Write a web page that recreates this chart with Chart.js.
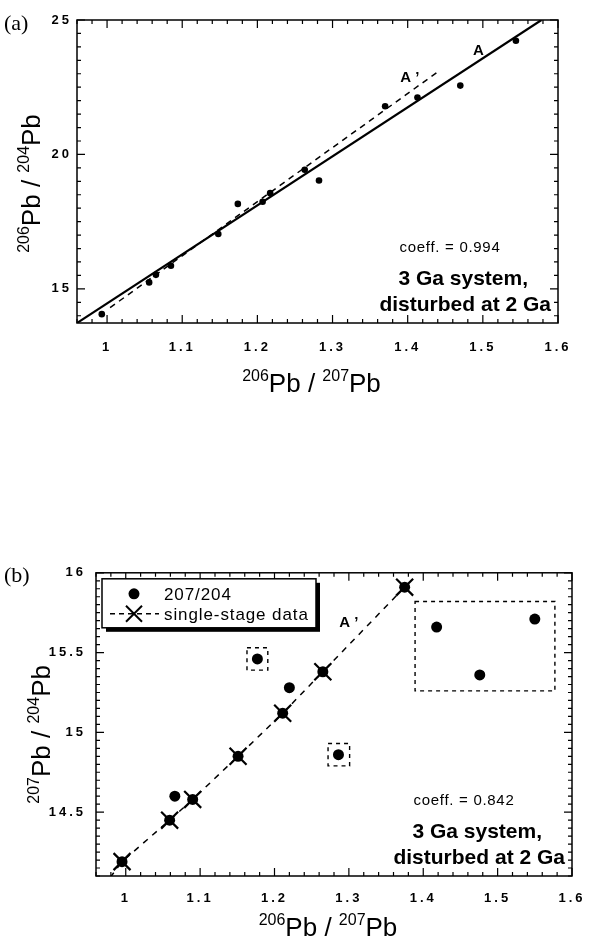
<!DOCTYPE html>
<html>
<head>
<meta charset="utf-8">
<script src="https://cdn.jsdelivr.net/npm/chart.js@4.4.0/dist/chart.umd.min.js"></script>
<style>
  body { margin: 0; background: #fff; width: 598px; height: 945px; position: relative; overflow: hidden; }
  canvas { position: absolute; left: 0; }
  #chartA { top: 0; }
  #chartB { top: 555px; }
</style>
</head>
<body>
<canvas id="chartA" width="598" height="400"></canvas>
<canvas id="chartB" width="598" height="390"></canvas>
<script>
// --- axis ticks ---
var xTickLabels = [1, 1.1, 1.2, 1.3, 1.4, 1.5, 1.6];
var yTicksA = [15, 20, 25];
var yTicksB = [14.5, 15, 15.5, 16];

// --- panel (a): 206Pb/207Pb vs 206Pb/204Pb ---
var ratio206_207_a = [0.993, 1.056, 1.065, 1.085, 1.148, 1.174, 1.207, 1.217, 1.263, 1.282, 1.370, 1.413, 1.470, 1.544];
var ratio206_204   = [14.06, 15.24, 15.52, 15.86, 17.04, 18.16, 18.24, 18.56, 19.43, 19.03, 21.79, 22.12, 22.56, 24.23];
// line A (solid) and line A' (dashed), end points
var lineA_x  = [0.96, 1.578];
var lineA_y  = [13.73, 25];
var lineA1_x = [1.004, 1.442];
var lineA1_y = [14.30, 23.11];
var labelA  = [1.494, 23.86];
var labelA1 = [1.403, 22.85];

// --- panel (b): 206Pb/207Pb vs 207Pb/204Pb ---
var ratio206_207_b = [0.995, 1.059, 1.066, 1.090, 1.151, 1.177, 1.211, 1.220, 1.265, 1.286, 1.375, 1.418, 1.476, 1.550];
var ratio207_204   = [14.19, 14.45, 14.60, 14.58, 14.85, 15.46, 15.12, 15.28, 15.38, 14.86, 15.91, 15.66, 15.36, 15.71];
var singleStageIdx = [0, 1, 3, 4, 6, 8, 10];
var singleLineStart = [0.979, 14.09];
var labelB1 = [1.300, 15.685];
// dashed boxes: [xmin, xmax, ymin, ymax]
var boxesB = [
  [1.163, 1.191, 15.39, 15.53],
  [1.272, 1.301, 14.79, 14.93],
  [1.389, 1.577, 15.26, 15.82]
];

var TICK_FONT = { family: 'Liberation Sans, Arial, sans-serif', size: 13, weight: 'bold' };

function pts(xs, ys) {
  return xs.map(function (x, i) { return { x: x, y: ys[i] }; });
}

function axis(min, max, ticks, pad, size, isX) {
  return {
    type: 'linear', min: min, max: max,
    grid: { display: false, drawTicks: false }, border: { display: false },
    ticks: { color: '#000', font: TICK_FONT, padding: pad, autoSkip: false, maxRotation: 0,
             callback: function (v) { return String(v); } },
    afterBuildTicks: function (s) { s.ticks = ticks.map(function (v) { return { value: v }; }); },
    afterFit: function (s) { if (isX) s.height = size; else s.width = size; }
  };
}

// superscript text like 206Pb / 207Pb
function drawIso(ctx, parts, x, y, rotate) {
  var MAIN = '26px Liberation Sans, Arial, sans-serif';
  var SUP = '16px Liberation Sans, Arial, sans-serif';
  ctx.save();
  ctx.translate(x, y);
  if (rotate) ctx.rotate(-Math.PI / 2);
  ctx.fillStyle = '#000';
  ctx.textAlign = 'left';
  ctx.textBaseline = 'alphabetic';
  var w = 0;
  parts.forEach(function (p) { ctx.font = p[1] ? SUP : MAIN; w += ctx.measureText(p[0]).width; });
  var cx = -w / 2;
  parts.forEach(function (p) {
    ctx.font = p[1] ? SUP : MAIN;
    ctx.fillText(p[0], cx, p[1] ? -11 : 0);
    cx += ctx.measureText(p[0]).width;
  });
  ctx.restore();
}

function steps(start, end, step) {
  var n = Math.round((end - start) / step), out = [];
  for (var i = 0; i <= n; i++) out.push(+(start + i * step).toFixed(4));
  return out;
}

function isMajor(v, every) {
  var q = v / every;
  return Math.abs(q - Math.round(q)) < 1e-6;
}

// box around chart area with inward ticks on all sides
function framePlugin(xMinor, xEvery, yMinor, yEvery) {
  return {
    id: 'frame',
    afterDatasetsDraw: function (chart) {
      var ctx = chart.ctx, a = chart.chartArea, sx = chart.scales.x, sy = chart.scales.y;
      ctx.save();
      ctx.strokeStyle = '#000';
      ctx.lineWidth = 1.5;
      ctx.strokeRect(a.left, a.top, a.right - a.left, a.bottom - a.top);
      ctx.lineWidth = 1.2;
      ctx.beginPath();
      xMinor.forEach(function (v) {
        var p = sx.getPixelForValue(v), l = isMajor(v, xEvery) ? 8 : 4;
        if (p < a.left - 0.5 || p > a.right + 0.5) return;
        ctx.moveTo(p, a.bottom); ctx.lineTo(p, a.bottom - l);
        ctx.moveTo(p, a.top); ctx.lineTo(p, a.top + l);
      });
      yMinor.forEach(function (v) {
        var p = sy.getPixelForValue(v), l = isMajor(v, yEvery) ? 8 : 4;
        if (p < a.top - 0.5 || p > a.bottom + 0.5) return;
        ctx.moveTo(a.left, p); ctx.lineTo(a.left + l, p);
        ctx.moveTo(a.right, p); ctx.lineTo(a.right - l, p);
      });
      ctx.stroke();
      ctx.restore();
    }
  };
}

// spaced-out tick digits like the original typesetting
var spacing = {
  id: 'spacing',
  beforeDraw: function (chart) { chart.ctx.letterSpacing = '3px'; },
  beforeDatasetsDraw: function (chart) { chart.ctx.letterSpacing = '0px'; }
};

function notes(chart, coeff, panel, panelY, xTitleY, letters) {
  var ctx = chart.ctx, a = chart.chartArea, sx = chart.scales.x, sy = chart.scales.y;
  ctx.save();
  ctx.fillStyle = '#000';
  ctx.font = '22px Liberation Serif, Times New Roman, serif';
  ctx.textAlign = 'left';
  ctx.textBaseline = 'alphabetic';
  ctx.fillText(panel, 4, panelY);

  ctx.font = '15px Liberation Sans, Arial, sans-serif';
  ctx.textAlign = 'center';
  ctx.letterSpacing = '0.7px';
  ctx.fillText('coeff. = ' + coeff, a.right - 108, a.bottom - 71);
  ctx.letterSpacing = '0px';
  ctx.font = 'bold 21px Liberation Sans, Arial, sans-serif';
  ctx.textAlign = 'right';
  ctx.fillText('3 Ga system,', a.right - 30, a.bottom - 38);
  ctx.fillText('disturbed at 2 Ga', a.right - 7, a.bottom - 12);

  ctx.font = 'bold 15px Liberation Sans, Arial, sans-serif';
  ctx.textAlign = 'center';
  ctx.textBaseline = 'middle';
  letters.forEach(function (l) {
    ctx.fillText(l[0], sx.getPixelForValue(l[1][0]), sy.getPixelForValue(l[1][1]));
  });
  ctx.restore();

  var cxm = (a.left + a.right) / 2;
  drawIso(ctx, [['206', 1], ['Pb', 0], [' / ', 0], ['207', 1], ['Pb', 0]], cxm - 6, xTitleY, false);
}

// ---------- chart (a) ----------
new Chart(document.getElementById('chartA'), {
  type: 'scatter',
  data: {
    datasets: [
      { data: pts(ratio206_207_a, ratio206_204), pointRadius: 3.3, pointBackgroundColor: '#000',
        pointBorderWidth: 0, showLine: false },
      { data: pts(lineA_x, lineA_y), showLine: true, borderColor: '#000', borderWidth: 2.2, pointRadius: 0 },
      { data: pts(lineA1_x, lineA1_y), showLine: true, borderColor: '#000', borderWidth: 1.5,
        borderDash: [6, 5], pointRadius: 0 }
    ]
  },
  options: {
    responsive: false, animation: false,
    layout: { padding: { left: 0, top: 20, right: 40, bottom: 0 } },
    plugins: { legend: { display: false }, tooltip: { enabled: false } },
    scales: {
      x: axis(0.96, 1.6, xTickLabels, 17, 77, true),
      y: axis(13.73, 25, yTicksA, 5, 77, false)
    }
  },
  plugins: [spacing, framePlugin(steps(0.96, 1.6, 0.02), 0.1, steps(14, 25, 0.5), 5), {
    id: 'notesA',
    afterDraw: function (chart) {
      notes(chart, '0.994', '(a)', 30, 392, [['A', labelA], ['A \u2019', labelA1]]);
      var a = chart.chartArea;
      drawIso(chart.ctx, [['206', 1], ['Pb', 0], [' / ', 0], ['204', 1], ['Pb', 0]], 40, (a.top + a.bottom) / 2 + 12, true);
    }
  }]
});

// ---------- chart (b) ----------
var crossX = singleStageIdx.map(function (i) { return ratio206_207_b[i]; });
var crossY = singleStageIdx.map(function (i) { return ratio207_204[i]; });

new Chart(document.getElementById('chartB'), {
  type: 'scatter',
  data: {
    datasets: [
      { data: pts([singleLineStart[0]].concat(crossX), [singleLineStart[1]].concat(crossY)), showLine: true,
        borderColor: '#000', borderWidth: 1.5, borderDash: [6, 6], pointRadius: 0 },
      { label: '207/204', data: pts(ratio206_207_b, ratio207_204), pointRadius: 5.5,
        pointBackgroundColor: '#000', pointBorderWidth: 0, showLine: false },
      { label: 'single-stage data', data: pts(crossX, crossY), pointStyle: 'crossRot', pointRadius: 12,
        pointBorderColor: '#000', pointBorderWidth: 2.2, showLine: false }
    ]
  },
  options: {
    responsive: false, animation: false,
    layout: { padding: { left: 0, top: 17, right: 26, bottom: 0 } },
    plugins: { legend: { display: false }, tooltip: { enabled: false } },
    scales: {
      x: axis(0.96, 1.6, xTickLabels, 15, 69, true),
      y: axis(14.1, 16, yTicksB, 10, 96, false)
    }
  },
  plugins: [spacing, framePlugin(steps(0.96, 1.6, 0.02), 0.1, steps(14.1, 16, 0.05), 0.5), {
    id: 'notesB',
    afterDatasetsDraw: function (chart) {
      var ctx = chart.ctx, sx = chart.scales.x, sy = chart.scales.y;
      ctx.save();
      ctx.strokeStyle = '#000';
      ctx.lineWidth = 1.4;
      ctx.setLineDash([4, 4]);
      boxesB.forEach(function (b) {
        var x0 = sx.getPixelForValue(b[0]), x1 = sx.getPixelForValue(b[1]);
        var y0 = sy.getPixelForValue(b[3]), y1 = sy.getPixelForValue(b[2]);
        ctx.strokeRect(x0, y0, x1 - x0, y1 - y0);
      });
      ctx.restore();
    },
    afterDraw: function (chart) {
      var ctx = chart.ctx, a = chart.chartArea;
      notes(chart, '0.842', '(b)', 27, 381, [['A \u2019', labelB1]]);
      drawIso(ctx, [['207', 1], ['Pb', 0], [' / ', 0], ['204', 1], ['Pb', 0]], 50, (a.top + a.bottom) / 2 + 10, true);

      // legend box with drop shadow
      var lx = a.left + 6, ly = a.top + 6, lw = 214, lh = 49;
      ctx.save();
      ctx.fillStyle = '#000';
      ctx.fillRect(lx + 4, ly + 4, lw, lh);
      ctx.fillStyle = '#fff';
      ctx.fillRect(lx, ly, lw, lh);
      ctx.strokeStyle = '#000';
      ctx.lineWidth = 1.5;
      ctx.strokeRect(lx, ly, lw, lh);
      var ds = chart.data.datasets;
      ctx.fillStyle = '#000';
      ctx.beginPath();
      ctx.arc(lx + 32, ly + 15, 5.5, 0, Math.PI * 2);
      ctx.fill();
      ctx.lineWidth = 1.5;
      ctx.setLineDash([5, 4]);
      ctx.beginPath();
      ctx.moveTo(lx + 8, ly + 35); ctx.lineTo(lx + 57, ly + 35);
      ctx.stroke();
      ctx.setLineDash([]);
      ctx.lineWidth = 2;
      ctx.beginPath();
      ctx.moveTo(lx + 24, ly + 27); ctx.lineTo(lx + 40, ly + 43);
      ctx.moveTo(lx + 40, ly + 27); ctx.lineTo(lx + 24, ly + 43);
      ctx.stroke();
      ctx.font = '17px Liberation Sans, Arial, sans-serif';
      ctx.letterSpacing = '0.9px';
      ctx.textBaseline = 'alphabetic';
      ctx.textAlign = 'left';
      ctx.fillText(ds[1].label, lx + 62, ly + 21);
      ctx.fillText(ds[2].label, lx + 62, ly + 41);
      ctx.restore();
    }
  }]
});
</script>
</body>
</html>
